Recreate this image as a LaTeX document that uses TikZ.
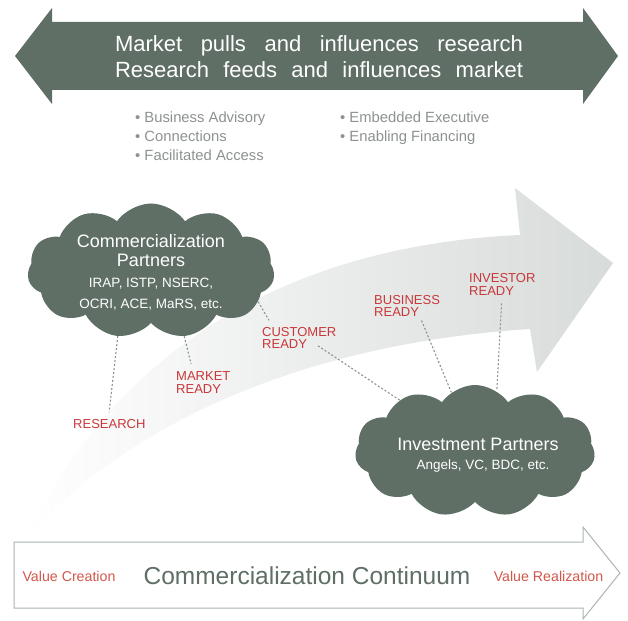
\documentclass[tikz,border=0pt]{standalone}
\usepackage{fontspec}
\setmainfont{Liberation Sans}
\usetikzlibrary{shapes.symbols}
\usepackage{xcolor}
\definecolor{slate}{HTML}{5F6F65}
\definecolor{stagered}{HTML}{C8383A}
\definecolor{valuered}{HTML}{D2584C}
\definecolor{bulletgray}{HTML}{8C928E}
\definecolor{flowgray}{HTML}{D7DBD9}
\definecolor{rimgray}{HTML}{AAB6AE}
\definecolor{dotgray}{HTML}{8A958E}
\newcommand{\stage}[4] {
    \node[stage] (#1) at (#2, #3) {#4};
}
\newcommand{\partners}[5] {
    \node[partner,minimum width=#4,minimum height=#5] (#1) at (#2, #3) {};
}

\begin{document}
\begin{tikzpicture}[x=1pt,y=-1pt,
        stage/.style={anchor=west,align=left,inner sep=0pt,text=stagered,
            font=\fontsize{13}{12.2}\selectfont},
        partner/.style={cloud,cloud puffs=11,cloud puff arc=110,
            cloud ignores aspect,fill=slate,inner sep=0pt},
        cloudtext/.style={text=white,align=center,inner sep=0pt},
        dots/.style={dotgray,line width=1.1pt,dash pattern=on 2pt off 2pt}
    ]
    \useasboundingbox (0,0) rectangle (628,620);
    \fill[slate] (15,56) -- (52,8) -- (52,22) -- (583,22) -- (583,8) -- (618,56)
        -- (583,104) -- (583,90) -- (52,90) -- (52,104) -- cycle;
    \node[cloudtext,font=\fontsize{22}{26}\selectfont] (pulls) at (319,57)
        {\makebox[408pt][s]{Market pulls and influences research}\\
         \makebox[408pt][s]{Research feeds and influences market}};
    \node[anchor=west,align=left,inner sep=0pt,text=bulletgray,font=\fontsize{14.8}{19}\selectfont]
        (services) at (135,136) {• Business Advisory\\• Connections\\• Facilitated Access};
    \node[anchor=west,align=left,inner sep=0pt,text=bulletgray,font=\fontsize{14.8}{19}\selectfont]
        (finance) at (340,128) {• Embedded Executive\\• Enabling Financing};
    \shade[left color=white,right color=flowgray]
        (25,540) .. controls (120,340) and (300,245) .. (520,235)
        -- (515,188) -- (613,263) -- (537,372) -- (530,329)
        .. controls (280,345) and (110,440) .. (25,540) -- cycle;
    \partners{cp}{151}{271}{247pt}{135pt}
    \partners{ip}{475}{451}{240pt}{132pt}
    \node[cloudtext,font=\fontsize{18}{19}\selectfont] (cptitle) at (151,250.5)
        {Commercialization\\Partners};
    \node[cloudtext,font=\fontsize{13.5}{21}\selectfont] (cplist) at (151,294.5)
        {IRAP, ISTP, NSERC,\\OCRI, ACE, MaRS, etc.};
    \node[cloudtext,font=\fontsize{18}{19}\selectfont] (iptitle) at (478,444)
        {Investment Partners};
    \node[cloudtext,font=\fontsize{13.5}{16}\selectfont] (iplist) at (483,466)
        {Angels, VC, BDC, etc.};
    \stage{research}{73}{424}{RESEARCH}
    \stage{market}{176}{382.5}{MARKET\\READY}
    \stage{customer}{262}{338}{CUSTOMER\\READY}
    \stage{business}{374}{306}{BUSINESS\\READY}
    \stage{investor}{469}{284.5}{INVESTOR\\READY}
    \draw[dots,shorten >=7pt] (cp.-117) -- ([xshift=-1pt]research.north);
    \draw[dots,shorten >=8pt] (cp.-63) -- ([xshift=17pt]market.north west);
    \draw[dots,shorten >=8pt] (cp.-16) -- ([xshift=11pt]customer.north west);
    \draw[dots] ([xshift=56pt,yshift=3pt]customer.south west) -- (ip.146);
    \draw[dots,shorten <=4pt] ([xshift=46pt]business.south west) -- (ip.112);
    \draw[dots,shorten <=8pt] ([xshift=33pt]investor.south west) -- (ip.70);
    \draw[rimgray,line width=1pt,fill=white] (14,542) -- (583,542) -- (583,527)
        -- (620,573) -- (583,619) -- (583,608) -- (14,608) -- cycle;
    \node[text=valuered,font=\fontsize{14.2}{16}\selectfont] (creation) at (69,576) {Value Creation};
    \node[text=slate,font=\fontsize{24.5}{28}\selectfont] (continuum) at (307,576) {Commercialization Continuum};
    \node[text=valuered,font=\fontsize{14.2}{16}\selectfont] (realization) at (548.5,576) {Value Realization};
\end{tikzpicture}
\end{document}
